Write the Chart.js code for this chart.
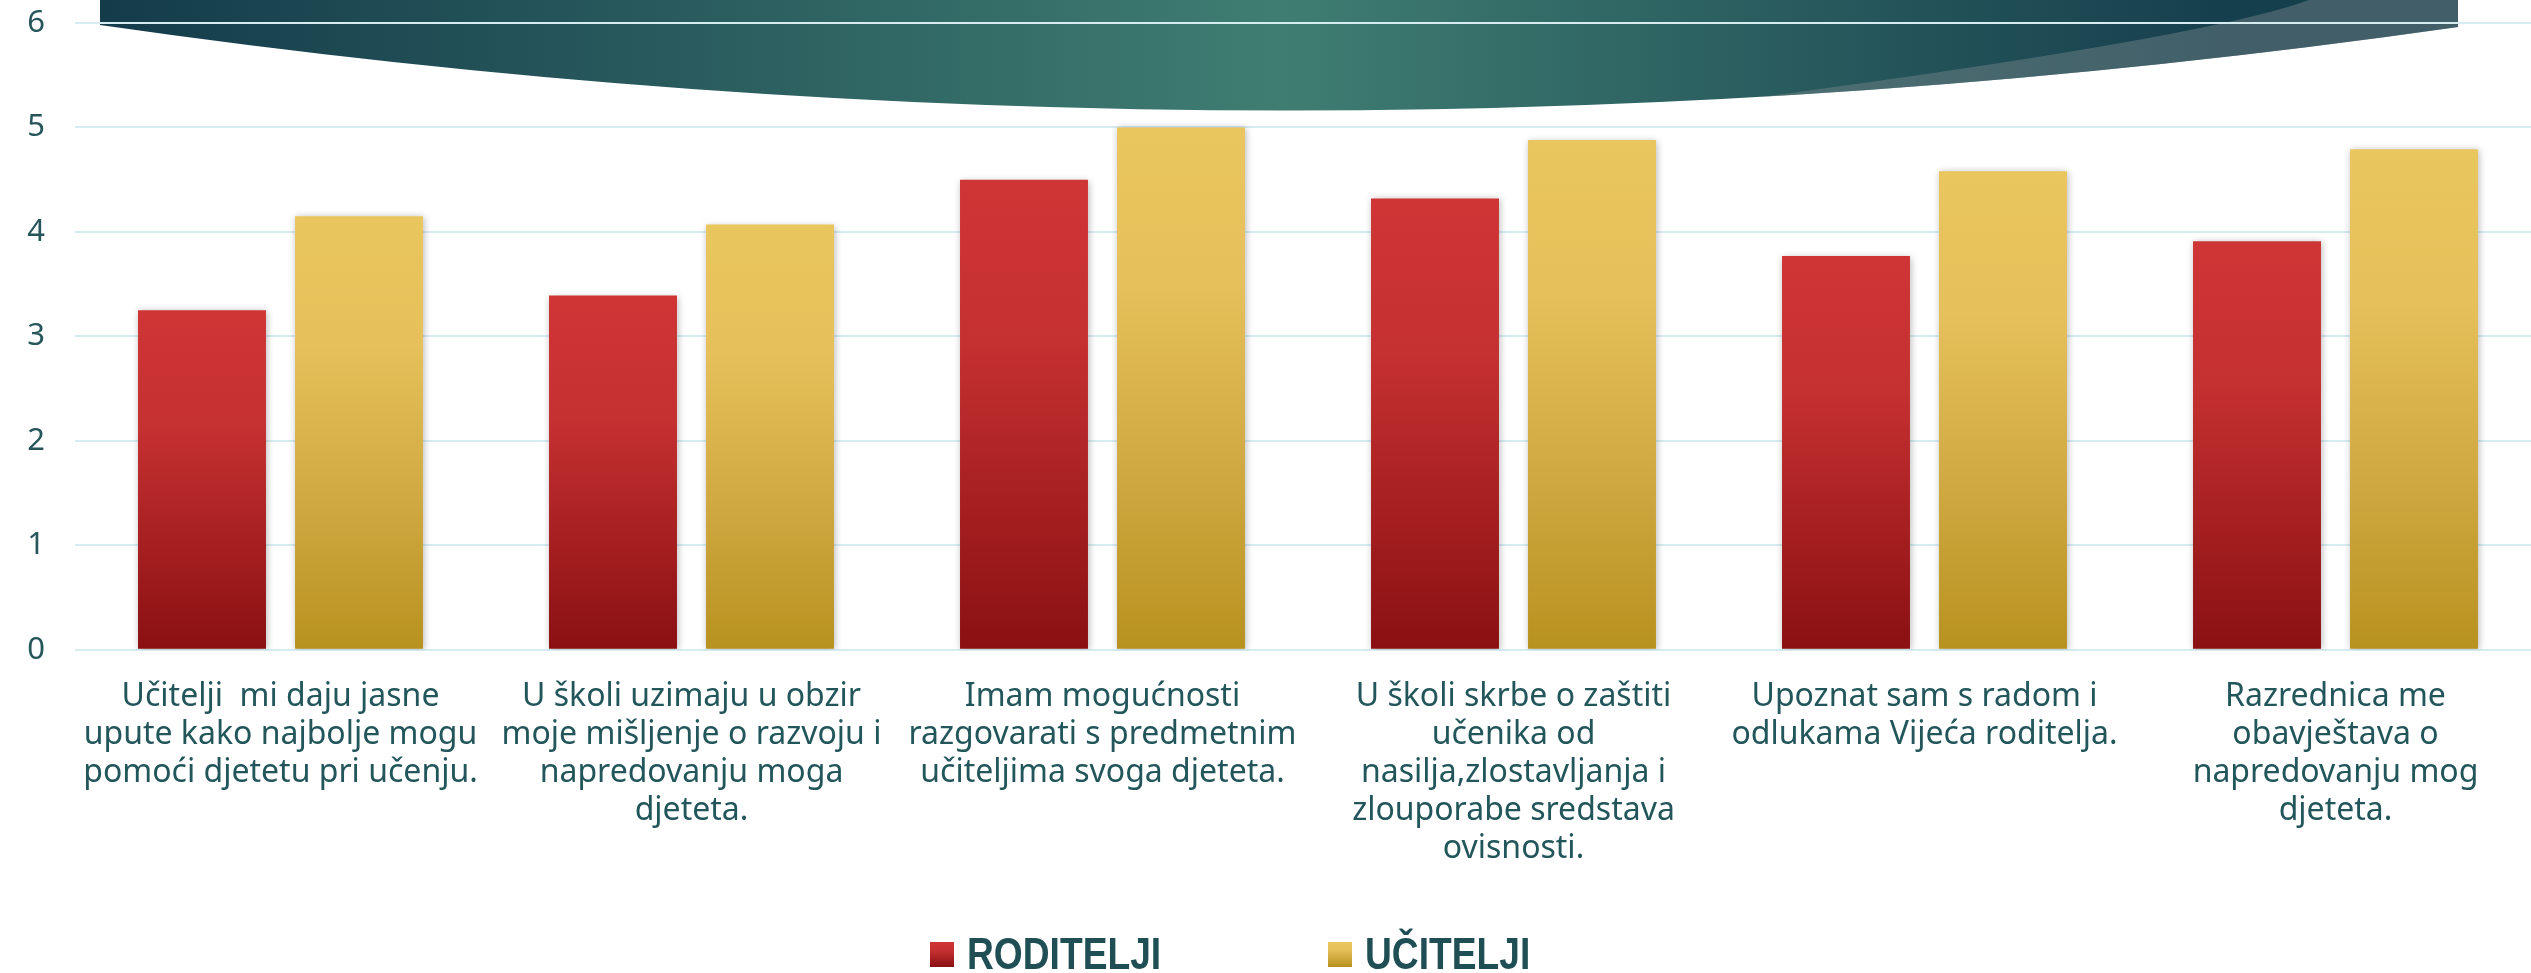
<!DOCTYPE html>
<html><head><meta charset="utf-8">
<script src="https://cdn.jsdelivr.net/npm/chart.js@4.4.1/dist/chart.umd.min.js"></script>
<style>
html,body{margin:0;padding:0;background:#fff;overflow:hidden;width:2531px;height:973px;}
#wrap{position:relative;width:2531px;height:973px;overflow:hidden;}
#c{position:absolute;left:0;top:0;}
#legend{position:absolute;left:930px;top:930px;display:flex;align-items:center;height:48px;font-family:"Liberation Sans",sans-serif;font-weight:bold;font-size:44px;color:#1f4f55;white-space:nowrap;}
.li{display:flex;align-items:center;}
.li:first-child{width:398px;}
.box{display:inline-block;width:24px;height:25px;margin-right:13px;flex:none;}
.txt{display:inline-block;transform:scaleX(0.845);transform-origin:left center;}
</style></head>
<body><div id="wrap"><canvas id="c" width="2541" height="973"></canvas><div id="legend"></div></div>
<script>
const categories = [
  ["Učitelji  mi daju jasne", "upute kako najbolje mogu", "pomoći djetetu pri učenju."],
  ["U školi uzimaju u obzir", "moje mišljenje o razvoju i", "napredovanju moga", "djeteta."],
  ["Imam mogućnosti", "razgovarati s predmetnim", "učiteljima svoga djeteta."],
  ["U školi skrbe o zaštiti", "učenika od", "nasilja,zlostavljanja i", "zlouporabe sredstava", "ovisnosti."],
  ["Upoznat sam s radom i", "odlukama Vijeća roditelja."],
  ["Razrednica me", "obavještava o", "napredovanju mog", "djeteta."]
];
const seriesNames = ["RODITELJI", "UČITELJI"];
const roditelji = [3.25, 3.39, 4.50, 4.32, 3.77, 3.91];
const ucitelji = [4.15, 4.07, 5.00, 4.88, 4.58, 4.79];
const yMin = 0, yMax = 6, yStep = 1;

const redStops = [[0, '#cf3535'], [0.35, '#c53031'], [1, '#8a1012']];
const goldStops = [[0, '#eac65f'], [0.3, '#e6c05a'], [0.65, '#d0a942'], [1, '#b8921f']];
const legendFills = ['linear-gradient(#cf3535,#c53031 35%,#8a1012)', 'linear-gradient(#eac65f,#e6c05a 30%,#b8921f)'];

function barGradient(stops) {
  return (c) => {
    const chart = c.chart;
    const ys = chart.scales.y;
    if (!chart.chartArea || !ys || c.dataIndex === undefined) return stops[0][1];
    const v = chart.data.datasets[c.datasetIndex].data[c.dataIndex];
    const top = ys.getPixelForValue(v), bot = ys.getPixelForValue(0);
    const g = chart.ctx.createLinearGradient(0, top, 0, bot);
    stops.forEach(s => g.addColorStop(s[0], s[1]));
    return g;
  };
}

const banner = {
  id: 'banner',
  beforeDraw(chart) {
    const ctx = chart.ctx;
    ctx.save();
    ctx.beginPath();
    ctx.moveTo(100, 0);
    ctx.lineTo(2458, 0);
    ctx.lineTo(2458, 27);
    ctx.quadraticCurveTo(1280, 195, 100, 25);
    ctx.closePath();
    const g = ctx.createLinearGradient(100, 0, 2458, 0);
    g.addColorStop(0, '#143b4a');
    g.addColorStop(0.5, '#3f7d72');
    g.addColorStop(0.9, '#163f4d');
    g.addColorStop(1, '#163f4d');
    ctx.fillStyle = g;
    ctx.fill();
    ctx.clip();
    ctx.beginPath();
    ctx.moveTo(2309, 0);
    ctx.quadraticCurveTo(2200, 40, 1700, 105);
    ctx.lineTo(1700, 220);
    ctx.lineTo(2531, 220);
    ctx.lineTo(2531, 0);
    ctx.closePath();
    ctx.fillStyle = 'rgba(120,135,140,0.45)';
    ctx.fill();
    ctx.restore();
  }
};

const barShadow = {
  id: 'barShadow',
  beforeDatasetsDraw(chart) {
    const c = chart.ctx;
    c.save();
    c.shadowColor = 'rgba(0,0,0,0.28)';
    c.shadowBlur = 7;
    c.shadowOffsetX = 1;
    c.shadowOffsetY = 1;
  },
  afterDatasetsDraw(chart) { chart.ctx.restore(); }
};

const htmlLegend = {
  id: 'htmlLegend',
  afterUpdate(chart) {
    const el = document.getElementById('legend');
    el.innerHTML = '';
    chart.data.datasets.forEach((ds, i) => {
      const item = document.createElement('div');
      item.className = 'li';
      const b = document.createElement('span');
      b.className = 'box';
      b.style.background = legendFills[i];
      const t = document.createElement('span');
      t.className = 'txt';
      t.textContent = ds.label;
      item.append(b, t);
      el.append(item);
    });
  }
};

const chart = new Chart(document.getElementById('c'), {
  type: 'bar',
  data: {
    labels: categories,
    datasets: [
      { label: seriesNames[0], data: roditelji, backgroundColor: barGradient(redStops), barPercentage: 0.815, categoryPercentage: 0.764 },
      { label: seriesNames[1], data: ucitelji, backgroundColor: barGradient(goldStops), barPercentage: 0.815, categoryPercentage: 0.764 }
    ]
  },
  options: {
    responsive: false,
    animation: false,
    layout: { padding: { top: 22.9, bottom: 85.6, left: 0, right: 0 } },
    plugins: { legend: { display: false }, tooltip: { enabled: false } },
    scales: {
      x: {
        grid: { display: false },
        border: { display: false },
        ticks: { font: { family: '"Noto Sans"', size: 32, lineHeight: '38px' }, color: '#22565b', padding: 19.8, maxRotation: 0, autoSkip: false }
      },
      y: {
        min: yMin, max: yMax,
        ticks: { stepSize: yStep, font: { family: '"Noto Sans"', size: 31 }, color: '#26565a', padding: 0 },
        grid: { color: '#d6ecf1', lineWidth: 2, drawTicks: true, tickLength: 30, tickColor: 'rgba(0,0,0,0)' },
        border: { display: false },
        afterFit(s) { s.width = 75; }
      }
    }
  },
  plugins: [banner, barShadow, htmlLegend]
});
</script>
</body></html>
